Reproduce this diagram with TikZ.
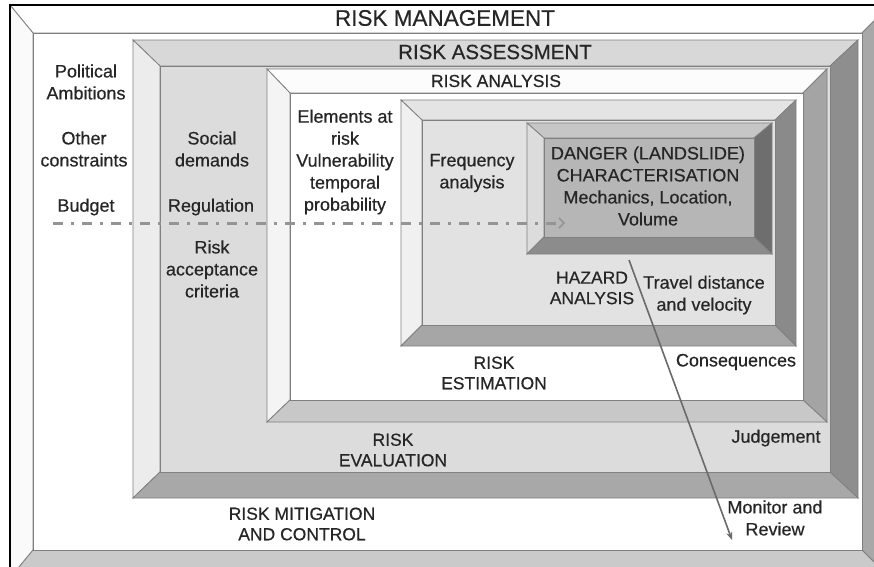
\documentclass[tikz,border=0pt]{standalone}
\usepackage{fontspec}
\setmainfont{Liberation Sans}[FakeBold=0.45]
\usetikzlibrary{arrows.meta}

% shading sets for the nested bevelled frames
\definecolor{mgtop}{HTML}{FFFFFF}\definecolor{mgleft}{HTML}{FAFAFA}
\definecolor{mgright}{HTML}{A8A8A8}\definecolor{mgbot}{HTML}{CACACA}
\definecolor{mgin}{HTML}{FFFFFF}
\definecolor{astop}{HTML}{D8D8D8}\definecolor{asleft}{HTML}{ECECEC}
\definecolor{asright}{HTML}{8E8E8E}\definecolor{asbot}{HTML}{A8A8A8}
\definecolor{asin}{HTML}{DCDCDC}
\definecolor{antop}{HTML}{FCFCFC}\definecolor{anleft}{HTML}{F4F4F4}
\definecolor{anright}{HTML}{A4A4A4}\definecolor{anbot}{HTML}{C8C8C8}
\definecolor{anin}{HTML}{FFFFFF}
\definecolor{estop}{HTML}{E4E4E4}\definecolor{esleft}{HTML}{F0F0F0}
\definecolor{esright}{HTML}{8A8A8A}\definecolor{esbot}{HTML}{A6A6A6}
\definecolor{esin}{HTML}{E2E2E2}
\definecolor{dgtop}{HTML}{C6C6C6}\definecolor{dgleft}{HTML}{DCDCDC}
\definecolor{dgright}{HTML}{6E6E6E}\definecolor{dgbot}{HTML}{8C8C8C}
\definecolor{dgin}{HTML}{B6B6B6}
\definecolor{inkgrey}{HTML}{262626}
\definecolor{flowgrey}{HTML}{949494}
\definecolor{arrowgrey}{HTML}{6A6A6A}

% outer corners (#1,#2)-(#3,#4), inner corners (#5,#6)-(#7,#8), colour set #9
\newcommand\bevelframe[9]{%
  \filldraw[frameline, fill=#9top]   (#1,#2) -- (#3,#2) -- (#7,#6) -- (#5,#6) -- cycle;
  \filldraw[frameline, fill=#9left]  (#1,#2) -- (#5,#6) -- (#5,#8) -- (#1,#4) -- cycle;
  \filldraw[frameline, fill=#9right] (#3,#2) -- (#3,#4) -- (#7,#8) -- (#7,#6) -- cycle;
  \filldraw[frameline, fill=#9bot]   (#1,#4) -- (#5,#8) -- (#7,#8) -- (#3,#4) -- cycle;
  \filldraw[frameline, fill=#9in]    (#5,#6) rectangle (#7,#8);
}

\tikzset{
  frameline/.style={draw=black!50, line width=0.8pt},
  lbl/.style={font=\fontsize{18}{22}\selectfont, text=inkgrey, align=center, inner sep=0pt},
  caplbl/.style={font=\fontsize{17.5}{20.5}\selectfont, text=inkgrey, align=center, inner sep=0pt},
  flowline/.style={draw=flowgrey, line width=3pt,
    dash pattern=on 10pt off 8pt on 3pt off 8pt,
    -{Straight Barb[length=5pt,width=10pt,line width=1.5pt]}},
  reviewline/.style={draw=arrowgrey, line width=1.6pt,
    -{Stealth[length=8pt,width=6pt]}},
}

\begin{document}
\begin{tikzpicture}[x=1pt, y=-1pt]
\useasboundingbox (0,0) rectangle (874,566);
\fill[white] (0,0) rectangle (874,566);
\clip (0,0) rectangle (874,566);

% nested frames, outermost first
\bevelframe{10}{5}{890}{578}{33}{33}{862}{550}{mg}
\draw[black, line width=2pt] (10,5) rectangle (890,578);
\bevelframe{133}{40}{858}{498}{160}{66}{830}{472}{as}
\bevelframe{267}{69}{827}{422}{290}{93}{803}{400}{an}
\bevelframe{401}{100}{796}{346}{422}{120}{775}{325}{es}
\bevelframe{527}{123}{772}{254}{544}{138}{754}{237}{dg}

% frame titles
\node[text=inkgrey, font=\fontsize{22.5}{26}\selectfont, inner sep=0pt] (mgmt) at (445,18) {RISK MANAGEMENT};
\node[text=inkgrey, font=\fontsize{20.5}{24}\selectfont, inner sep=0pt] (assess) at (495,52) {RISK ASSESSMENT};
\node[text=inkgrey, font=\fontsize{17.5}{20}\selectfont, inner sep=0pt] (analysis) at (496,81) {RISK ANALYSIS};

% labels
\node[lbl] (political) at (86,82) {Political\\Ambitions};
\node[lbl] (other) at (84,149) {Other\\constraints};
\node[lbl] (budget) at (86,207) {Budget};
\node[lbl] (social) at (212,149) {Social\\demands};
\node[lbl] (regulation) at (211,207) {Regulation};
\node[lbl] (acceptance) at (212,269) {Risk\\acceptance\\criteria};
\node[lbl] (elements) at (345,162) {Elements at\\risk\\Vulnerability\\temporal\\probability};
\node[lbl] (frequency) at (472,173) {Frequency\\analysis};
\node[lbl] (danger) at (648,186) {DANGER (LANDSLIDE)\\CHARACTERISATION\\Mechanics, Location,\\Volume};
\node[caplbl] (hazard) at (592,288) {HAZARD\\ANALYSIS};
\node[lbl] (travel) at (704,295) {Travel distance\\and velocity};
\node[lbl] (consequences) at (736,362) {Consequences};
\node[caplbl] (estimation) at (494,373) {RISK\\ESTIMATION};
\node[lbl] (judgement) at (776,438) {Judgement};
\node[caplbl] (evaluation) at (393,450) {RISK\\EVALUATION};
\node[caplbl] (mitigation) at (302,524) {RISK MITIGATION\\AND CONTROL};
\node[lbl] (monitor) at (775,518) {Monitor and\\Review};

% connectors
\coordinate (flowstart) at (53,223);
\coordinate (flowend) at (565,223);
\draw[flowline] (flowstart) -- (flowend);
\coordinate (reviewstart) at (629,260);
\coordinate (reviewend) at (732,540);
\draw[reviewline] (reviewstart) -- (reviewend);
\end{tikzpicture}
\end{document}
